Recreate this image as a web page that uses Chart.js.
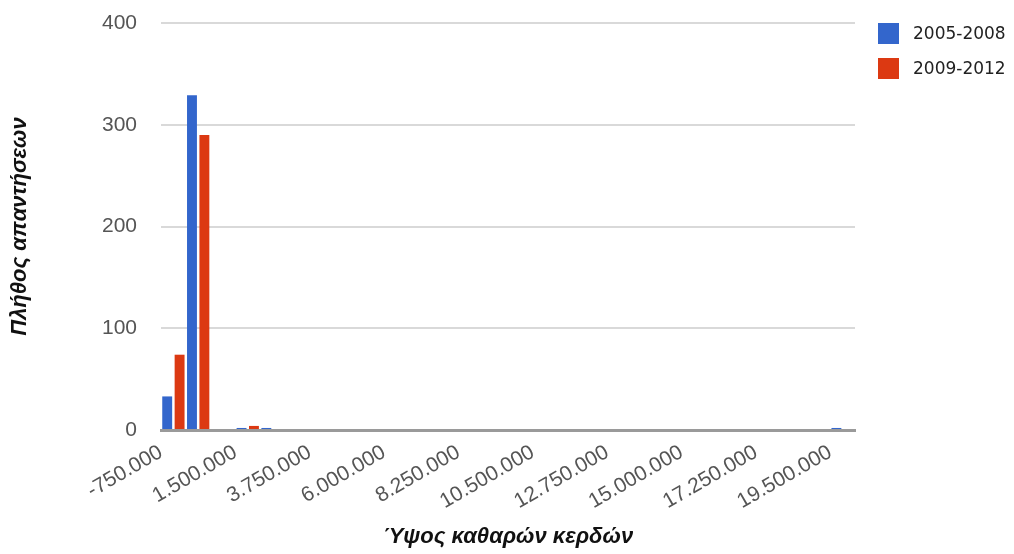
<!DOCTYPE html>
<html lang="el">
<head>
<meta charset="utf-8">
<title>Ύψος καθαρών κερδών</title>
<script src="https://cdn.jsdelivr.net/npm/chart.js@4.4.1/dist/chart.umd.min.js"></script>
<style>
  html, body { margin: 0; padding: 0; background: #ffffff; }
  #wrap { position: relative; width: 1014px; height: 554px; overflow: hidden; }
  #chart { position: absolute; left: 0; top: 0; }
  .legend-item { position: absolute; left: 878px; height: 22px; display: flex; align-items: center;
                 font-family: "DejaVu Sans", sans-serif; font-size: 17px; color: #222; white-space: nowrap; }
  .legend-box { width: 21px; height: 21px; margin-right: 14px; flex: none; }
</style>
</head>
<body>
<div id="wrap">
  <canvas id="chart" width="1014" height="554"></canvas>
  <div id="legend"></div>
</div>
<script>
// Histogram bins of net profit, 750.000 wide, starting at -750.000
const binStart = -750000;
const binWidth = 750000;
const binCount = 28;
const categories = Array.from({ length: binCount }, (_, i) => String(binStart + i * binWidth));

// Number of responses per bin
const seriesNames = ['2005-2008', '2009-2012'];
const values2005 = [33, 329, 0, 2, 2, 0, 0, 0, 0, 0, 0, 0, 0, 0, 0, 0, 0, 0, 0, 0, 0, 0, 0, 0, 0, 0, 0, 2];
const values2009 = [74, 290, 0, 4, 0, 0, 0, 0, 0, 0, 0, 0, 0, 0, 0, 0, 0, 0, 0, 0, 0, 0, 0, 0, 0, 0, 0, 0];
const seriesColors = ['#3366cc', '#dc3912'];

// Value axis ticks
const xTickValues = [-750000, 1500000, 3750000, 6000000, 8250000, 10500000, 12750000, 15000000, 17250000, 19500000];
const yTickValues = [0, 100, 200, 300, 400];

const xTitle = 'Ύψος καθαρών κερδών';
const yTitle = 'Πλήθος απαντήσεων';

// Greek-style thousands separator
function fmt(v) {
  const s = Math.abs(Math.round(v)).toString().replace(/\B(?=(\d{3})+(?!\d))/g, '.');
  return (v < 0 ? '-' : '') + s;
}

const tickFont = { family: '"Liberation Sans", Arial, sans-serif', size: 21 };
const titleFont = { family: '"Liberation Sans", Arial, sans-serif', size: 22, weight: 'bold', style: 'italic' };

const LEFT = 161, BOTTOM = 430, TOP = 23, RIGHT = 855;
const xMin = binStart, xMax = binStart + binCount * binWidth;

const chart = new Chart(document.getElementById('chart'), {
  type: 'bar',
  data: {
    labels: categories,
    datasets: [
      { label: seriesNames[0], data: values2005, backgroundColor: seriesColors[0], xAxisID: 'x', yAxisID: 'y' },
      { label: seriesNames[1], data: values2009, backgroundColor: seriesColors[1], xAxisID: 'x', yAxisID: 'y' }
    ]
  },
  options: {
    responsive: false,
    animation: false,
    layout: { padding: { left: 0, top: TOP, right: 1014 - RIGHT, bottom: 0 } },
    datasets: { bar: { categoryPercentage: 1.0, barPercentage: 0.8 } },
    plugins: { legend: { display: false }, tooltip: { enabled: false } },
    scales: {
      // bins, one per category
      x: { type: 'category', display: false, offset: true },
      // continuous value axis carrying the tick labels
      xv: {
        type: 'linear',
        position: 'bottom',
        min: xMin,
        max: xMax,
        bounds: 'data',
        offset: false,
        z: 1,
        grid: { display: false, drawTicks: false, offset: false },
        border: { display: true, color: '#9a9a9a', width: 3 },
        afterBuildTicks: s => {
          s.min = xMin;
          s.max = xMax;
          s.ticks = xTickValues.map(v => ({ value: v }));
        },
        afterFit: s => { s.height = 554 - BOTTOM; },
        ticks: {
          autoSkip: false,
          minRotation: 30,
          maxRotation: 30,
          padding: 10,
          labelOffset: 0,
          color: '#555',
          font: tickFont,
          callback: v => fmt(v)
        },
        title: { display: true, text: xTitle, color: '#111', font: titleFont, padding: { top: 4, bottom: 4 } }
      },
      y: {
        min: 0,
        max: 400,
        afterBuildTicks: s => { s.ticks = yTickValues.map(v => ({ value: v })); },
        afterFit: s => { s.width = LEFT; s.paddingTop = 0; s.paddingBottom = 0; },
        grid: { color: '#d9d9d9', lineWidth: 2, drawTicks: false },
        border: { display: false },
        ticks: { padding: 24, color: '#555', font: tickFont },
        title: { display: true, text: yTitle, color: '#111', font: titleFont, padding: { top: 7, bottom: 7 } }
      }
    }
  }
});

// Legend built from the chart's datasets
const legend = document.getElementById('legend');
const legendTops = [22, 57];
chart.data.datasets.forEach((ds, i) => {
  const item = document.createElement('div');
  item.className = 'legend-item';
  item.style.top = legendTops[i] + 'px';
  const box = document.createElement('span');
  box.className = 'legend-box';
  box.style.background = ds.backgroundColor;
  const text = document.createElement('span');
  text.textContent = ds.label;
  item.appendChild(box);
  item.appendChild(text);
  legend.appendChild(item);
});
</script>
</body>
</html>
